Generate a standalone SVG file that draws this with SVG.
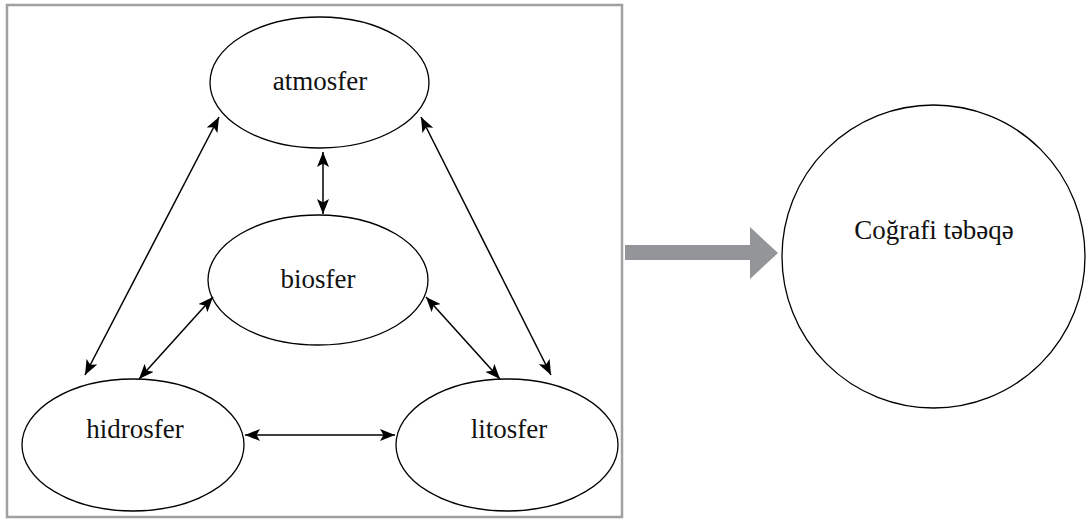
<svg xmlns="http://www.w3.org/2000/svg" width="1088" height="519" viewBox="0 0 1088 519">
  <style>
    .node { fill: #ffffff; stroke: #000000; stroke-width: 1.3; }
    .label { font-family: "Liberation Serif", "Times New Roman", serif; font-size: 27px; fill: #111111; text-anchor: middle; }
    .link { stroke: #000000; stroke-width: 1.5; fill: none; marker-start: url(#head); marker-end: url(#head); }
  </style>
  <defs>
    <marker id="head" viewBox="0 0 15 12" refX="15" refY="6" markerWidth="15" markerHeight="12" markerUnits="userSpaceOnUse" orient="auto-start-reverse">
      <path d="M0,0 L15,6 L0,12 L3.5,6 z" fill="#000000"/>
    </marker>
  </defs>

  <rect width="1088" height="519" fill="#ffffff"/>

  <!-- frame around the spheres -->
  <rect id="frame" x="7" y="5" width="615" height="512" fill="none" stroke="#a0a0a0" stroke-width="2.5"/>

  <g id="atmosfer">
    <ellipse class="node" cx="319.5" cy="82.5" rx="109.5" ry="65.5"/>
    <text class="label" x="320" y="90">atmosfer</text>
  </g>
  <g id="biosfer">
    <ellipse class="node" cx="318" cy="280" rx="110" ry="65"/>
    <text class="label" x="318" y="288">biosfer</text>
  </g>
  <g id="hidrosfer">
    <ellipse class="node" cx="133" cy="445" rx="111" ry="66"/>
    <text class="label" x="135" y="438">hidrosfer</text>
  </g>
  <g id="litosfer">
    <ellipse class="node" cx="507" cy="445" rx="111" ry="66"/>
    <text class="label" x="509" y="438">litosfer</text>
  </g>

  <g id="connectors">
    <line class="link" x1="323" y1="152" x2="323" y2="214"/>
    <line class="link" x1="245" y1="435" x2="395" y2="435"/>
    <line class="link" x1="219" y1="117" x2="85" y2="375"/>
    <line class="link" x1="421" y1="117" x2="551" y2="375"/>
    <line class="link" x1="213" y1="297" x2="139" y2="379"/>
    <line class="link" x1="426" y1="297" x2="500" y2="379"/>
  </g>

  <g id="transition-arrow">
    <path d="M625,245 L750,245 L750,227 L778,253 L750,279 L750,260 L625,260 z" fill="#939598"/>
  </g>

  <g id="cografi-tebeqe">
    <circle class="node" cx="933.5" cy="256.5" r="151.5"/>
    <text class="label" x="934" y="239">Coğrafi təbəqə</text>
  </g>
</svg>
